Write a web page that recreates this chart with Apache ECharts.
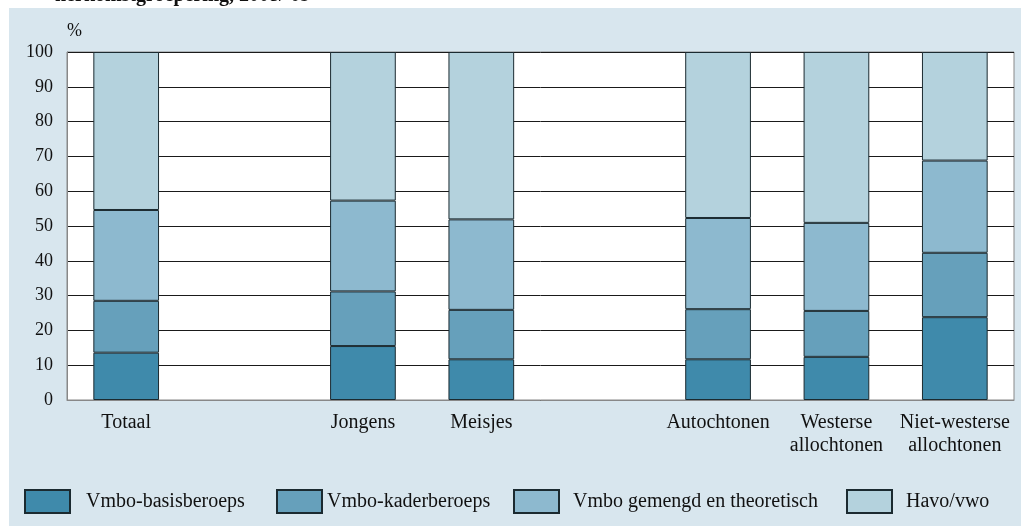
<!DOCTYPE html>
<html>
<head>
<meta charset="utf-8">
<script src="https://cdn.jsdelivr.net/npm/echarts@6/dist/echarts.min.js"></script>
<style>
html,body{margin:0;padding:0;background:#fff;}
#c{width:1021px;height:526px;}
</style>
</head>
<body>
<div id="c"></div>
<script>
const categories = ['Totaal', '', 'Jongens', 'Meisjes', '', 'Autochtonen', 'Westerse\nallochtonen', 'Niet-westerse\nallochtonen'];
const seriesNames = ['Vmbo-basisberoeps', 'Vmbo-kaderberoeps', 'Vmbo gemengd en theoretisch', 'Havo/vwo'];
const basis   = [13.6, null, 15.5, 11.7, null, 11.7, 12.4, 23.8];
const kader   = [14.9, null, 15.7, 14.2, null, 14.4, 13.2, 18.5];
const gemengd = [26.1, null, 26.1, 26.0, null, 26.2, 25.3, 26.5];
const havo    = [45.4, null, 42.7, 48.1, null, 47.7, 49.1, 31.2];
const yTicks = [0, 10, 20, 30, 40, 50, 60, 70, 80, 90, 100];
const colors = ['#3f8aab', '#66a0bb', '#8db9cf', '#b4d2dd'];
const FONT = '"Liberation Serif", serif';

const chart = echarts.init(document.getElementById('c'), null, {renderer: 'canvas'});
const allData = [basis, kader, gemengd, havo];
const legendLeft = [24, 276, 513, 846];
const legendPad = [11, 0, 9, 9];

const option = {
  animation: false,
  backgroundColor: '#ffffff',
  textStyle: {fontFamily: FONT},
  graphic: [
    {type: 'rect', left: 9, top: 8, shape: {width: 1012, height: 518}, style: {fill: '#d8e6ee'}, z: -10, silent: true},
    {type: 'text', x: 55, y: 6, style: {text: "herkomstgroepering, 2008/'09", font: 'bold 20px "Liberation Serif", serif', fill: '#111', textVerticalAlign: 'bottom'}, z: 10},
    {type: 'text', x: 67, y: 31, style: {text: '%', font: '18px "Liberation Serif", serif', fill: '#111', textVerticalAlign: 'middle'}, z: 10}
  ],
  grid: {left: 67, right: 7, top: 52, bottom: 126, show: true, backgroundColor: '#ffffff', borderColor: '#888', borderWidth: 1},
  legend: seriesNames.map((n, i) => ({
    data: [n], left: legendLeft[i], top: 489, itemWidth: 45, itemHeight: 23, padding: 0,
    icon: 'rect',
    textStyle: {fontFamily: FONT, fontSize: 20, color: '#111', padding: [0, 0, 0, legendPad[i]]},
    selectedMode: false
  })),
  xAxis: {
    type: 'category', data: categories,
    axisLine: {show: true, lineStyle: {color: '#888', width: 1}},
    axisTick: {show: false},
    axisLabel: {fontFamily: FONT, fontSize: 20, lineHeight: 23, color: '#111', margin: 11, interval: 0}
  },
  yAxis: {
    type: 'value', min: 0, max: 100, interval: 10,
    axisLine: {show: true, lineStyle: {color: '#888', width: 1}},
    axisTick: {show: false},
    axisLabel: {fontFamily: FONT, fontSize: 18, color: '#111', margin: 14,
      formatter: v => yTicks.includes(v) ? String(v) : ''},
    splitLine: {show: true, lineStyle: {color: '#1a1a1a', width: 1}}
  },
  series: seriesNames.map((n, i) => ({
    name: n, type: 'bar', stack: 'total', data: allData[i], barWidth: '55.5%',
    itemStyle: {color: colors[i], borderColor: '#1b2a30', borderWidth: 1},
    z: 5
  }))
};
chart.setOption(option);
</script>
</body>
</html>
